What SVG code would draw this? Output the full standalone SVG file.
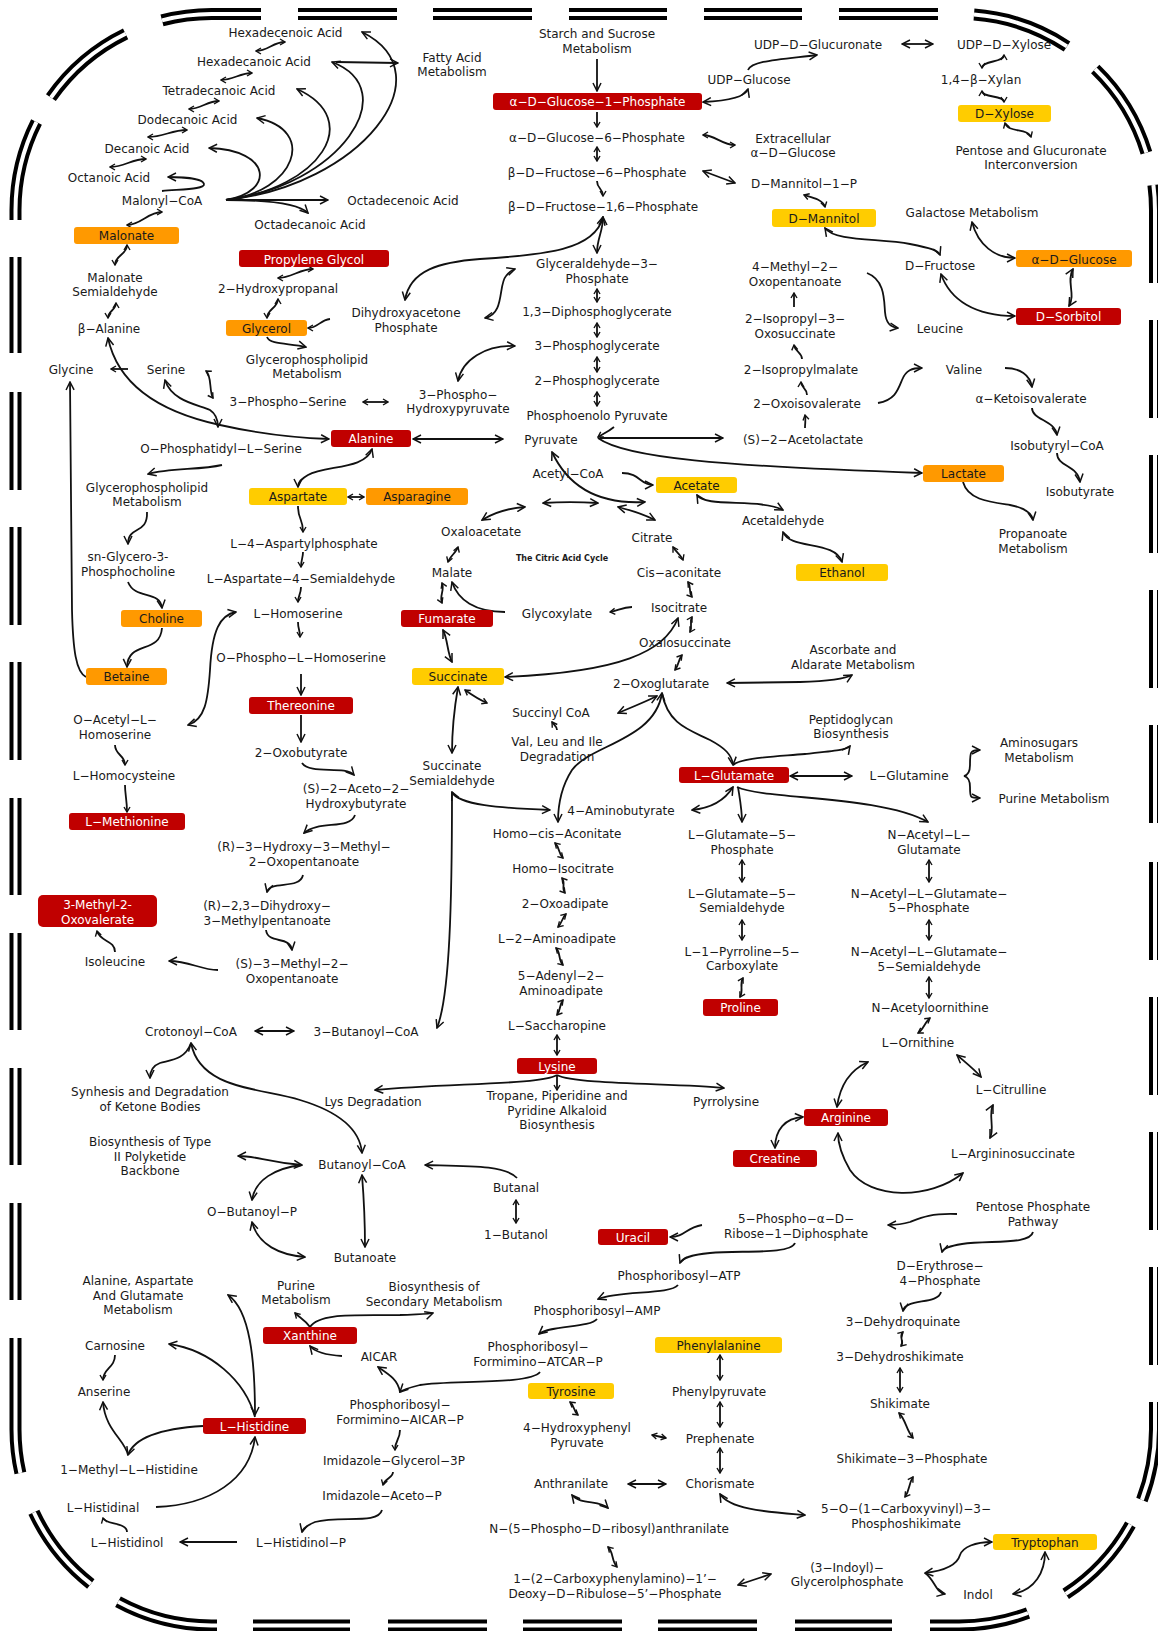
<svg xmlns="http://www.w3.org/2000/svg" width="1158" height="1631" viewBox="0 0 1158 1631">
<style>
text{font-family:"DejaVu Sans",Verdana,sans-serif;font-size:12px;fill:#1a1a1a;text-anchor:middle}
.w{fill:#fff}
.tca{font-weight:bold;font-size:8px}
.r{fill:#C00000}
.o{fill:#FF9900}
.y{fill:#FFCC00}
#connectors path{fill:none;stroke:#111;stroke-width:1.8}
#connectors .e{marker-end:url(#ah)}
#connectors .b{marker-start:url(#ah);marker-end:url(#ah)}
#connectors .es{marker-end:url(#as)}
#connectors .bs{marker-start:url(#as);marker-end:url(#as)}
</style>
<defs>
<marker id="ah" viewBox="-10 -5 11 10" refX="0" refY="0" markerWidth="11" markerHeight="10" markerUnits="userSpaceOnUse" orient="auto-start-reverse"><path d="M-8,-4 L0,0 L-8,4" fill="none" stroke="#111" stroke-width="1.5"/></marker>
<marker id="as" viewBox="-7 -4 8 8" refX="0" refY="0" markerWidth="8" markerHeight="8" markerUnits="userSpaceOnUse" orient="auto-start-reverse"><path d="M-5,-3 L0,0 L-5,3" fill="none" stroke="#111" stroke-width="1.4"/></marker>
<path id="mem" d="M298,14 H397 M433,14 H532 M569,14 H667 M704,14 H802 M839,14 H938 M261,14 L211.5,14 A196,196 0 0 0 162,20.4 M125.6,33.8 A196,196 0 0 0 50.9,97.6 M36.5,122 A196,196 0 0 0 15.5,210 L15.5,220 M15.5,257 V353 M15.5,392 V490 M15.5,527 V625 M15.5,662 V760 M15.5,798 V895 M15.5,933 V1030 M15.5,1068 V1165 M15.5,1203 V1300 M15.5,1338 L15.5,1429.5 A196,196 0 0 0 20.4,1473 M33.9,1512.3 A196,196 0 0 0 90.8,1583.9 M118,1601.8 A196,196 0 0 0 211.5,1625.5 L217,1625.5 M253,1625.5 H350 M388,1625.5 H487 M523,1625.5 H622 M658,1625.5 H757 M795,1625.5 H892 M930,1625.5 L959,1625.5 A196,196 0 0 0 1028,1613 M1065.7,1593.9 A196,196 0 0 0 1130.4,1524.5 M1141.9,1500 A196,196 0 0 0 1155,1429.5 L1155,1402 M1155,1365 V1267 M1155,1230 V1132 M1155,1095 V997 M1155,960 V862 M1155,823 V725 M1155,688 V590 M1155,553 V455 M1155,418 V320 M1155,283 L1155,210 A196,196 0 0 0 1153.4,185 M1146.4,152.7 A196,196 0 0 0 1095.2,69 M1067,46.4 A196,196 0 0 0 974,14.6"/>
</defs>
<rect width="1158" height="1631" fill="#fff"/>
<g id="membrane">
<use href="#mem" fill="none" stroke="#000" stroke-width="12"/>
<use href="#mem" fill="none" stroke="#fff" stroke-width="4"/>
</g>
<g id="connectors">
<path class="bs" d="M256,51 C268,51 273,42 285,42"/>
<path class="bs" d="M221,80 C233,80 240,73 252,73"/>
<path class="bs" d="M189,109 C201,109 207,101 219,101"/>
<path class="bs" d="M148,137 C164,137 171,130 187,130"/>
<path class="bs" d="M110,167 C125,167 131,159 146,159"/>
<path class="e" d="M162,191 C185,189 205,189 204,184 C203,179 185,177 168,177"/>
<path class="bs" d="M162,212 C148,212 141,225 127,225"/>
<path class="e" d="M226,200 L328,200"/>
<path class="e" d="M226,200 C262,200 298,203 308,213"/>
<path class="e" d="M226,200 C275,192 272,150 209,148"/>
<path class="e" d="M226,200 C295,192 318,130 257,118"/>
<path class="e" d="M226,200 C320,188 365,120 297,89"/>
<path class="e" d="M226,200 C340,186 405,90 332,62"/>
<path class="e" d="M226,200 C360,186 448,75 362,32"/>
<path class="e" d="M336,62 L398,63"/>
<path class="bs" d="M127,245 C127,255 115,255 115,265"/>
<path class="bs" d="M116,303 C116,310 108,311 108,318"/>
<path class="bs" d="M313,269 C300,269 291,278 278,278"/>
<path class="bs" d="M278,299 C278,308 267,309 267,318"/>
<path class="es" d="M330,319 C320,320 318,328 308,328"/>
<path class="e" d="M267,337 C270,345 290,343 306,347"/>
<path class="es" d="M128,369 L111,369"/>
<path class="bs" d="M206,371 C212,375 209,392 213,398"/>
<path class="bs" d="M363,402 L388,402"/>
<path class="b" d="M165,380 C172,402 200,405 210,410 C216,414 218,420 218,427"/>
<path class="b" d="M108,338 C118,385 160,412 220,425 C260,434 300,438 329,439"/>
<path class="e" d="M86,677 C76,672 73,650 72,610 L70,382"/>
<path class="e" d="M597,59 L597,91"/>
<path class="es" d="M597,112 L597,127"/>
<path class="bs" d="M597,147 L597,161"/>
<path class="es" d="M597,181 C597,189 603,188 603,196"/>
<path class="b" d="M603,217 C603,232 597,238 597,253"/>
<path class="b" d="M405,300 C410,270 440,262 480,259 C545,255 595,250 603,217"/>
<path class="b" d="M485,318 C505,314 498,285 506,276 C509,272 512,270 515,269"/>
<path class="bs" d="M597,289 L597,302"/>
<path class="bs" d="M597,323 L597,337"/>
<path class="bs" d="M597,357 L597,372"/>
<path class="bs" d="M597,392 L597,406"/>
<path class="b" d="M515,346 C485,345 462,360 458,381"/>
<path class="b" d="M703,102 C725,101 745,98 748,89"/>
<path class="e" d="M748,70 C752,61 775,60 817,55"/>
<path class="bs" d="M703,135 C715,135 722,145 735,145"/>
<path class="b" d="M703,171 L735,183"/>
<path class="b" d="M902,44 L933,44"/>
<path class="bs" d="M1004,55 C1004,63 982,60 982,68"/>
<path class="bs" d="M982,91 C982,98 1004,95 1004,102"/>
<path class="bs" d="M1005,123 C1008,133 1028,128 1031,137"/>
<path class="bs" d="M804,195 C810,197 823,199 825,207"/>
<path class="b" d="M825,228 C835,242 880,238 910,244 C930,248 938,250 940,255"/>
<path class="b" d="M972,222 C978,245 995,258 1015,258"/>
<path class="b" d="M1073,269 C1066,282 1076,294 1069,306"/>
<path class="b" d="M941,274 C950,300 975,316 1015,316"/>
<path class="e" d="M867,273 C885,280 884,300 885,312 C886,323 890,327 898,328"/>
<path class="es" d="M794,307 L794,293"/>
<path class="es" d="M802,359 C802,352 795,352 794,345"/>
<path class="es" d="M807,395 C807,388 801,388 801,382"/>
<path class="e" d="M878,403 C895,400 898,390 902,380 C906,370 912,368 922,368"/>
<path class="e" d="M1005,368 C1020,368 1030,375 1032,387"/>
<path class="es" d="M805,428 C805,422 806,420 805,415"/>
<path class="e" d="M1032,408 C1032,420 1055,420 1057,435"/>
<path class="e" d="M1057,453 C1057,467 1078,465 1080,482"/>
<path class="e" d="M598,438 C625,458 720,466 922,473"/>
<path class="e" d="M963,482 C968,500 990,502 1010,505 C1025,508 1032,513 1033,520"/>
<path class="b" d="M697,495 C705,508 760,498 783,510"/>
<path class="b" d="M783,532 C790,550 835,540 842,562"/>
<path class="b" d="M727,683 L800,682 C830,681 845,679 852,675"/>
<path class="e" d="M733,765 C740,758 770,757 805,754 C835,751 847,750 850,746"/>
<path class="b" d="M790,776 L852,776"/>
<path class="b" d="M980,750 C970,750 970,752 970,765 C970,772 968,775 964,776 C968,777 970,780 970,787 C970,798 970,798 980,798"/>
<path class="e" d="M737,787 C765,800 880,795 928,822"/>
<path class="b" d="M413,439 L503,439"/>
<path class="es" d="M614,427 C608,432 603,434 598,437"/>
<path class="e" d="M600,438 L723,438"/>
<path class="b" d="M552,452 C565,480 590,505 645,502"/>
<path class="b" d="M482,520 C495,512 510,508 525,507"/>
<path class="b" d="M543,503 C560,502 580,502 598,503"/>
<path class="b" d="M618,507 C630,510 645,515 655,520"/>
<path class="bs" d="M673,547 C676,552 681,555 683,560"/>
<path class="bs" d="M688,582 C692,588 688,592 692,597"/>
<path class="es" d="M632,607 C622,607 618,611 610,612"/>
<path class="e" d="M505,612 C475,612 458,600 452,582"/>
<path class="bs" d="M458,547 C456,553 450,556 448,562"/>
<path class="bs" d="M442,583 C445,590 439,596 442,603"/>
<path class="b" d="M443,630 C448,640 447,652 452,662"/>
<path class="b" d="M678,618 C665,652 620,672 505,677"/>
<path class="bs" d="M692,617 C689,622 693,627 690,632"/>
<path class="bs" d="M682,655 C678,660 679,665 675,670"/>
<path class="bs" d="M465,690 C472,695 480,700 487,703"/>
<path class="b" d="M657,696 C645,702 630,708 618,713"/>
<path class="es" d="M557,730 C557,726 554,725 552,722"/>
<path class="b" d="M458,687 C454,710 452,730 452,753"/>
<path class="b" d="M452,792 C458,805 500,808 550,810"/>
<path class="e" d="M452,792 C452,900 450,995 437,1028"/>
<path class="b" d="M662,693 C655,740 590,745 572,770 C561,787 558,805 558,822"/>
<path class="e" d="M662,693 C668,725 690,730 710,740 C725,748 732,755 733,765"/>
<path class="b" d="M733,787 C725,800 712,808 692,810"/>
<path class="e" d="M738,787 C740,800 742,810 742,822"/>
<path class="bs" d="M555,843 C560,848 558,853 563,858"/>
<path class="bs" d="M562,878 C566,883 561,888 565,893"/>
<path class="bs" d="M566,914 C562,918 562,923 558,927"/>
<path class="bs" d="M556,948 C561,953 558,960 563,965"/>
<path class="bs" d="M563,1000 C559,1005 561,1010 557,1015"/>
<path class="bs" d="M557,1035 L557,1055"/>
<path class="e" d="M557,1075 C540,1085 450,1083 375,1090"/>
<path class="es" d="M557,1075 L557,1090"/>
<path class="e" d="M557,1075 C575,1085 680,1083 724,1088"/>
<path class="bs" d="M742,860 L742,882"/>
<path class="bs" d="M742,920 L742,940"/>
<path class="bs" d="M743,978 C739,985 744,990 740,997"/>
<path class="bs" d="M929,860 L929,882"/>
<path class="bs" d="M929,920 L929,940"/>
<path class="bs" d="M929,977 L929,998"/>
<path class="bs" d="M930,1018 C925,1022 923,1030 918,1033"/>
<path class="b" d="M957,1055 C965,1062 975,1070 981,1077"/>
<path class="b" d="M993,1105 C988,1115 995,1128 990,1138"/>
<path class="b" d="M963,1173 C930,1200 870,1200 850,1170 C843,1158 838,1145 838,1133"/>
<path class="b" d="M837,1107 C840,1085 850,1070 868,1062"/>
<path class="b" d="M803,1117 C785,1118 775,1130 775,1148"/>
<path class="b" d="M372,449 C365,470 325,465 308,475 C301,479 298,482 298,487"/>
<path class="bs" d="M348,497 L364,497"/>
<path class="es" d="M298,506 C298,520 303,518 303,532"/>
<path class="es" d="M303,552 C303,558 301,560 301,567"/>
<path class="es" d="M301,587 C301,594 298,596 298,602"/>
<path class="es" d="M298,622 C298,629 300,630 300,637"/>
<path class="e" d="M301,674 L301,695"/>
<path class="e" d="M301,715 L301,742"/>
<path class="e" d="M302,763 C310,775 345,765 354,775"/>
<path class="e" d="M222,465 C200,470 170,468 148,474"/>
<path class="e" d="M147,512 C148,535 128,525 128,544"/>
<path class="e" d="M128,582 C135,600 160,590 162,608"/>
<path class="e" d="M162,628 C160,655 128,640 127,667"/>
<path class="b" d="M188,725 C205,720 208,700 210,670 C212,630 220,615 236,612"/>
<path class="es" d="M115,745 C115,755 125,755 125,765"/>
<path class="es" d="M125,785 C125,795 127,800 127,812"/>
<path class="e" d="M355,815 C350,830 318,820 304,833"/>
<path class="e" d="M303,875 C300,890 270,880 267,892"/>
<path class="e" d="M266,930 C268,945 290,935 292,950"/>
<path class="e" d="M218,970 C200,970 190,961 169,961"/>
<path class="es" d="M115,952 C115,940 100,942 97,931"/>
<path class="b" d="M255,1031 L294,1031"/>
<path class="e" d="M191,1043 C185,1060 170,1060 160,1063 C152,1066 150,1072 150,1078"/>
<path class="b" d="M191,1043 C200,1090 262,1088 300,1100 C340,1112 360,1130 362,1153"/>
<path class="b" d="M238,1156 C258,1156 265,1162 302,1165"/>
<path class="e" d="M302,1165 C275,1168 255,1180 252,1200"/>
<path class="b" d="M252,1222 C258,1245 280,1255 305,1257"/>
<path class="b" d="M362,1175 C364,1200 365,1220 365,1247"/>
<path class="e" d="M517,1178 C505,1165 470,1166 425,1165"/>
<path class="bs" d="M516,1200 L516,1223"/>
<path class="e" d="M957,1214 C930,1213 920,1218 910,1222 C900,1225 895,1225 888,1225"/>
<path class="e" d="M1033,1232 C1030,1245 990,1240 962,1244 C950,1246 943,1248 942,1252"/>
<path class="e" d="M702,1225 C685,1228 685,1237 670,1237"/>
<path class="e" d="M795,1243 C790,1255 740,1250 710,1253 C690,1255 682,1258 680,1263"/>
<path class="e" d="M678,1285 C670,1295 620,1290 598,1299"/>
<path class="e" d="M597,1319 C590,1328 550,1325 539,1334"/>
<path class="e" d="M540,1372 C530,1385 450,1380 420,1385 C408,1388 402,1390 400,1392"/>
<path class="e" d="M400,1392 C398,1380 390,1375 378,1367"/>
<path class="e" d="M342,1356 C325,1355 315,1352 310,1346"/>
<path class="es" d="M310,1327 C305,1320 300,1318 295,1313"/>
<path class="e" d="M310,1327 C320,1312 360,1316 400,1315 C420,1314 430,1314 433,1313"/>
<path class="es" d="M400,1430 C400,1440 395,1440 395,1450"/>
<path class="es" d="M393,1472 C393,1478 385,1478 383,1485"/>
<path class="e" d="M382,1510 C378,1525 340,1515 315,1522 C308,1525 303,1528 302,1532"/>
<path class="e" d="M237,1542 L180,1542"/>
<path class="es" d="M127,1532 C127,1522 105,1525 103,1518"/>
<path class="e" d="M156,1507 C210,1505 250,1480 255,1437"/>
<path class="e" d="M203,1426 C170,1428 135,1435 128,1455"/>
<path class="e" d="M128,1455 C125,1440 105,1430 103,1402"/>
<path class="es" d="M115,1355 C115,1368 103,1368 103,1380"/>
<path class="e" d="M255,1417 C245,1380 210,1350 169,1344"/>
<path class="b" d="M255,1415 C255,1360 250,1310 228,1295"/>
<path class="bs" d="M570,1402 C575,1406 573,1411 578,1415"/>
<path class="bs" d="M652,1435 C657,1436 661,1437 666,1438"/>
<path class="bs" d="M720,1355 L720,1380"/>
<path class="bs" d="M720,1402 L720,1427"/>
<path class="bs" d="M720,1448 L720,1473"/>
<path class="b" d="M628,1484 L666,1484"/>
<path class="b" d="M572,1495 C580,1505 600,1500 608,1508"/>
<path class="bs" d="M608,1547 C614,1553 611,1560 617,1567"/>
<path class="b" d="M738,1585 L771,1574"/>
<path class="b" d="M720,1494 C730,1510 770,1512 805,1515"/>
<path class="e" d="M941,1292 C938,1305 905,1298 903,1311"/>
<path class="bs" d="M903,1332 C898,1337 905,1342 901,1346"/>
<path class="bs" d="M900,1368 L900,1392"/>
<path class="bs" d="M899,1413 C906,1420 906,1430 913,1438"/>
<path class="bs" d="M913,1477 C908,1485 910,1490 905,1497"/>
<path class="b" d="M925,1573 C950,1570 958,1562 960,1555 C963,1547 975,1542 992,1542"/>
<path class="e" d="M925,1573 C935,1580 935,1592 945,1594"/>
<path class="b" d="M1013,1594 C1035,1590 1045,1572 1045,1552"/>
<path class="e" d="M622,473 C640,473 640,485 653,485"/>
</g>
<g id="hexadecenoic"><text x="285.5" y="37">Hexadecenoic Acid</text></g>
<g id="hexadecanoic"><text x="254" y="66">Hexadecanoic Acid</text></g>
<g id="tetradecanoic"><text x="219" y="95">Tetradecanoic Acid</text></g>
<g id="dodecanoic"><text x="187.5" y="124">Dodecanoic Acid</text></g>
<g id="decanoic"><text x="147" y="153">Decanoic Acid</text></g>
<g id="octanoic"><text x="109" y="182">Octanoic Acid</text></g>
<g id="malonylcoa"><text x="162" y="205">Malonyl−CoA</text></g>
<g id="octadecenoic"><text x="403" y="205">Octadecenoic Acid</text></g>
<g id="octadecanoic"><text x="310" y="229">Octadecanoic Acid</text></g>
<g id="fattyacid"><text x="452" y="62">Fatty Acid<tspan x="452" y="76">Metabolism</tspan></text></g>
<g id="starch"><text x="597" y="38">Starch and Sucrose<tspan x="597" y="53">Metabolism</tspan></text></g>
<g id="udpglucuronate"><text x="818" y="49">UDP−D−Glucuronate</text></g>
<g id="udpxylose"><text x="1004" y="49">UDP−D−Xylose</text></g>
<g id="udpglucose"><text x="749" y="84">UDP−Glucose</text></g>
<g id="xylan"><text x="981" y="84">1,4−β−Xylan</text></g>
<g id="g1p"><rect class="r" x="493" y="93" width="209" height="17" rx="3"/><text class="w" x="597.5" y="106">α−D−Glucose−1−Phosphate</text></g>
<g id="dxylose"><rect class="y" x="958" y="105" width="93" height="17" rx="3"/><text x="1004.5" y="118">D−Xylose</text></g>
<g id="g6p"><text x="597" y="141.5">α−D−Glucose−6−Phosphate</text></g>
<g id="extraglucose"><text x="793" y="143">Extracellular<tspan x="793" y="157">α−D−Glucose</tspan></text></g>
<g id="pentoseglucuronate"><text x="1031" y="154.5">Pentose and Glucuronate<tspan x="1031" y="169">Interconversion</tspan></text></g>
<g id="f6p"><text x="597" y="176.5">β−D−Fructose−6−Phosphate</text></g>
<g id="mannitol1p"><text x="804" y="188">D−Mannitol−1−P</text></g>
<g id="f16p"><text x="603" y="211">β−D−Fructose−1,6−Phosphate</text></g>
<g id="galactose"><text x="972" y="217">Galactose Metabolism</text></g>
<g id="mannitol"><rect class="y" x="772" y="209" width="104" height="18" rx="3"/><text x="824" y="222.5">D−Mannitol</text></g>
<g id="malonate"><rect class="o" x="74" y="227" width="105" height="17" rx="3"/><text x="126.5" y="240">Malonate</text></g>
<g id="propyleneglycol"><rect class="r" x="239" y="250" width="150" height="17" rx="3"/><text class="w" x="314" y="263.5">Propylene Glycol</text></g>
<g id="aglucose"><rect class="o" x="1016" y="250" width="116" height="17" rx="3"/><text x="1074" y="263.5">α−D−Glucose</text></g>
<g id="malonatesemi"><text x="115" y="282">Malonate<tspan x="115" y="296">Semialdehyde</tspan></text></g>
<g id="hydroxypropanal"><text x="278" y="293">2−Hydroxypropanal</text></g>
<g id="gap"><text x="597" y="268">Glyceraldehyde−3−<tspan x="597" y="283">Phosphate</tspan></text></g>
<g id="methyloxopentanoate"><text x="795" y="271">4−Methyl−2−<tspan x="795" y="286">Oxopentanoate</tspan></text></g>
<g id="dfructose"><text x="940" y="270">D−Fructose</text></g>
<g id="dpg"><text x="597" y="316">1,3−Diphosphoglycerate</text></g>
<g id="dhap"><text x="406" y="317">Dihydroxyacetone<tspan x="406" y="332">Phosphate</tspan></text></g>
<g id="isopropyloxosuccinate"><text x="795" y="323">2−Isopropyl−3−<tspan x="795" y="338">Oxosuccinate</tspan></text></g>
<g id="sorbitol"><rect class="r" x="1016" y="308" width="105" height="17" rx="3"/><text class="w" x="1068.5" y="321">D−Sorbitol</text></g>
<g id="glycerol"><rect class="o" x="226" y="320" width="81" height="16" rx="3"/><text x="266.5" y="332.5">Glycerol</text></g>
<g id="balanine"><text x="109" y="333">β−Alanine</text></g>
<g id="leucine"><text x="940" y="333">Leucine</text></g>
<g id="pg3"><text x="597" y="350">3−Phosphoglycerate</text></g>
<g id="gplmet1"><text x="307" y="364">Glycerophospholipid<tspan x="307" y="378">Metabolism</tspan></text></g>
<g id="glycine"><text x="71" y="374">Glycine</text></g>
<g id="serine"><text x="166" y="374">Serine</text></g>
<g id="isopropylmalate"><text x="801" y="374">2−Isopropylmalate</text></g>
<g id="valine"><text x="964" y="374">Valine</text></g>
<g id="pg2"><text x="597" y="385">2−Phosphoglycerate</text></g>
<g id="phosphoserine"><text x="288" y="406">3−Phospho−Serine</text></g>
<g id="phosphohydroxypyruvate"><text x="458" y="398.5">3−Phospho−<tspan x="458" y="413">Hydroxypyruvate</tspan></text></g>
<g id="oxoisovalerate"><text x="807" y="408">2−Oxoisovalerate</text></g>
<g id="ketoisovalerate"><text x="1031" y="403">α−Ketoisovalerate</text></g>
<g id="pep"><text x="597" y="420">Phosphoenolo Pyruvate</text></g>
<g id="alanine"><rect class="r" x="331" y="430" width="80" height="17" rx="3"/><text class="w" x="371" y="443">Alanine</text></g>
<g id="pyruvate"><text x="551" y="444">Pyruvate</text></g>
<g id="acetolactate"><text x="803" y="444">(S)−2−Acetolactate</text></g>
<g id="isobutyrylcoa"><text x="1057" y="450">Isobutyryl−CoA</text></g>
<g id="phosphatidylserine"><text x="221" y="453">O−Phosphatidyl−L−Serine</text></g>
<g id="lactate"><rect class="o" x="923" y="465" width="81" height="17" rx="3"/><text x="963.5" y="478">Lactate</text></g>
<g id="acetylcoa"><text x="568" y="478">Acetyl−CoA</text></g>
<g id="acetate"><rect class="y" x="656" y="477" width="81" height="16" rx="3"/><text x="696.5" y="489.5">Acetate</text></g>
<g id="aspartate"><rect class="y" x="249" y="488" width="98" height="17" rx="3"/><text x="298" y="501">Aspartate</text></g>
<g id="asparagine"><rect class="o" x="366" y="488" width="102" height="17" rx="3"/><text x="417" y="501">Asparagine</text></g>
<g id="gplmet2"><text x="147" y="492">Glycerophospholipid<tspan x="147" y="506">Metabolism</tspan></text></g>
<g id="isobutyrate"><text x="1080" y="496">Isobutyrate</text></g>
<g id="acetaldehyde"><text x="783" y="525">Acetaldehyde</text></g>
<g id="oxaloacetate"><text x="481" y="536">Oxaloacetate</text></g>
<g id="citrate"><text x="652" y="542">Citrate</text></g>
<g id="propanoate"><text x="1033" y="538">Propanoate<tspan x="1033" y="553">Metabolism</tspan></text></g>
<g id="aspartylphosphate"><text x="304" y="548">L−4−Aspartylphosphate</text></g>
<g id="tcalabel"><text class="tca" x="562" y="561">The Citric Acid Cycle</text></g>
<g id="glycerophosphocholine"><text x="128" y="561">sn-Glycero-3-<tspan x="128" y="576">Phosphocholine</tspan></text></g>
<g id="malate"><text x="452" y="577">Malate</text></g>
<g id="cisaconitate"><text x="679" y="577">Cis−aconitate</text></g>
<g id="ethanol"><rect class="y" x="796" y="564" width="92" height="17" rx="3"/><text x="842" y="577">Ethanol</text></g>
<g id="aspsemialdehyde"><text x="301" y="583">L−Aspartate−4−Semialdehyde</text></g>
<g id="isocitrate"><text x="679" y="612">Isocitrate</text></g>
<g id="homoserine"><text x="298" y="618">L−Homoserine</text></g>
<g id="glycoxylate"><text x="557" y="618">Glycoxylate</text></g>
<g id="choline"><rect class="o" x="121" y="610" width="81" height="17" rx="3"/><text x="161.5" y="623">Choline</text></g>
<g id="fumarate"><rect class="r" x="401" y="610" width="92" height="17" rx="3"/><text class="w" x="447" y="623">Fumarate</text></g>
<g id="oxalosuccinate"><text x="685" y="647">Oxalosuccinate</text></g>
<g id="ascorbate"><text x="853" y="654">Ascorbate and<tspan x="853" y="669">Aldarate Metabolism</tspan></text></g>
<g id="phosphohomoserine"><text x="301" y="662">O−Phospho−L−Homoserine</text></g>
<g id="betaine"><rect class="o" x="86" y="668" width="81" height="17" rx="3"/><text x="126.5" y="681">Betaine</text></g>
<g id="succinate"><rect class="y" x="412" y="668" width="92" height="17" rx="3"/><text x="458" y="681">Succinate</text></g>
<g id="oxoglutarate"><text x="661" y="688">2−Oxoglutarate</text></g>
<g id="threonine"><rect class="r" x="249" y="697" width="104" height="17" rx="3"/><text class="w" x="301" y="710">Thereonine</text></g>
<g id="succinylcoa"><text x="551" y="717">Succinyl CoA</text></g>
<g id="peptidoglycan"><text x="851" y="724">Peptidoglycan<tspan x="851" y="738">Biosynthesis</tspan></text></g>
<g id="acetylhomoserine"><text x="115" y="724">O−Acetyl−L−<tspan x="115" y="739">Homoserine</tspan></text></g>
<g id="valleuile"><text x="557" y="746">Val, Leu and Ile<tspan x="557" y="761">Degradation</tspan></text></g>
<g id="aminosugars"><text x="1039" y="747">Aminosugars<tspan x="1039" y="762">Metabolism</tspan></text></g>
<g id="oxobutyrate"><text x="301" y="757">2−Oxobutyrate</text></g>
<g id="succsemialdehyde"><text x="452" y="770">Succinate<tspan x="452" y="785">Semialdehyde</tspan></text></g>
<g id="glutamate"><rect class="r" x="679" y="767" width="110" height="16" rx="3"/><text class="w" x="734" y="779.5">L−Glutamate</text></g>
<g id="homocysteine"><text x="124" y="780">L−Homocysteine</text></g>
<g id="glutamine"><text x="909" y="780">L−Glutamine</text></g>
<g id="acetohydroxybutyrate"><text x="356" y="793">(S)−2−Aceto−2−<tspan x="356" y="808">Hydroxybutyrate</tspan></text></g>
<g id="purinemet2"><text x="1054" y="803">Purine Metabolism</text></g>
<g id="aminobutyrate"><text x="621" y="815">4−Aminobutyrate</text></g>
<g id="methionine"><rect class="r" x="69" y="813" width="116" height="17" rx="3"/><text class="w" x="127" y="826">L−Methionine</text></g>
<g id="homocisaconitate"><text x="557" y="838">Homo−cis−Aconitate</text></g>
<g id="glu5p"><text x="742" y="839">L−Glutamate−5−<tspan x="742" y="854">Phosphate</tspan></text></g>
<g id="acetylglutamate"><text x="929" y="839">N−Acetyl−L−<tspan x="929" y="854">Glutamate</tspan></text></g>
<g id="hydroxymethyloxo"><text x="304" y="851">(R)−3−Hydroxy−3−Methyl−<tspan x="304" y="866">2−Oxopentanoate</tspan></text></g>
<g id="homoisocitrate"><text x="563" y="873">Homo−Isocitrate</text></g>
<g id="glu5sa"><text x="742" y="898">L−Glutamate−5−<tspan x="742" y="912">Semialdehyde</tspan></text></g>
<g id="acglu5p"><text x="929" y="898">N−Acetyl−L−Glutamate−<tspan x="929" y="912">5−Phosphate</tspan></text></g>
<g id="oxoadipate"><text x="565" y="908">2−Oxoadipate</text></g>
<g id="dihydroxymethyl"><text x="267" y="910">(R)−2,3−Dihydroxy−<tspan x="267" y="925">3−Methylpentanoate</tspan></text></g>
<g id="methyloxovalerate"><rect class="r" x="38" y="895" width="119" height="32" rx="5"/><text class="w" x="97.5" y="909">3-Methyl-2-<tspan x="97.5" y="924">Oxovalerate</tspan></text></g>
<g id="aminoadipate"><text x="557" y="943">L−2−Aminoadipate</text></g>
<g id="pyrroline"><text x="742" y="956">L−1−Pyrroline−5−<tspan x="742" y="970">Carboxylate</tspan></text></g>
<g id="acglu5sa"><text x="929" y="956">N−Acetyl−L−Glutamate−<tspan x="929" y="971">5−Semialdehyde</tspan></text></g>
<g id="isoleucine"><text x="115" y="966">Isoleucine</text></g>
<g id="methyloxopent3"><text x="292" y="968">(S)−3−Methyl−2−<tspan x="292" y="983">Oxopentanoate</tspan></text></g>
<g id="adenylaminoadipate"><text x="561" y="980">5−Adenyl−2−<tspan x="561" y="995">Aminoadipate</tspan></text></g>
<g id="proline"><rect class="r" x="703" y="999" width="75" height="17" rx="3"/><text class="w" x="740.5" y="1012">Proline</text></g>
<g id="acetylornithine"><text x="930" y="1012">N−Acetyloornithine</text></g>
<g id="saccharopine"><text x="557" y="1030">L−Saccharopine</text></g>
<g id="crotonoylcoa"><text x="191" y="1036">Crotonoyl−CoA</text></g>
<g id="butanoylcoa3"><text x="366" y="1036">3−Butanoyl−CoA</text></g>
<g id="ornithine"><text x="918" y="1047">L−Ornithine</text></g>
<g id="lysine"><rect class="r" x="517" y="1058" width="80" height="16" rx="3"/><text class="w" x="557" y="1070.5">Lysine</text></g>
<g id="citrulline"><text x="1011" y="1094">L−Citrulline</text></g>
<g id="ketonebodies"><text x="150" y="1096">Synhesis and Degradation<tspan x="150" y="1111">of Ketone Bodies</tspan></text></g>
<g id="tropane"><text x="557" y="1100">Tropane, Piperidine and<tspan x="557" y="1115">Pyridine Alkaloid</tspan><tspan x="557" y="1129">Biosynthesis</tspan></text></g>
<g id="lysdeg"><text x="373" y="1106">Lys Degradation</text></g>
<g id="pyrrolysine"><text x="726" y="1106">Pyrrolysine</text></g>
<g id="arginine"><rect class="r" x="804" y="1109" width="84" height="17" rx="3"/><text class="w" x="846" y="1122">Arginine</text></g>
<g id="polyketide"><text x="150" y="1146">Biosynthesis of Type<tspan x="150" y="1161">II Polyketide</tspan><tspan x="150" y="1175">Backbone</tspan></text></g>
<g id="creatine"><rect class="r" x="733" y="1150" width="84" height="17" rx="3"/><text class="w" x="775" y="1163">Creatine</text></g>
<g id="argininosuccinate"><text x="1013" y="1158">L−Argininosuccinate</text></g>
<g id="butanoylcoa"><text x="362" y="1169">Butanoyl−CoA</text></g>
<g id="butanal"><text x="516" y="1192">Butanal</text></g>
<g id="ppp"><text x="1033" y="1211">Pentose Phosphate<tspan x="1033" y="1226">Pathway</tspan></text></g>
<g id="butanoylp"><text x="252" y="1216">O−Butanoyl−P</text></g>
<g id="prpp"><text x="796" y="1223">5−Phospho−α−D−<tspan x="796" y="1238">Ribose−1−Diphosphate</tspan></text></g>
<g id="butanol"><text x="516" y="1239">1−Butanol</text></g>
<g id="uracil"><rect class="r" x="598" y="1229" width="70" height="16" rx="3"/><text class="w" x="633" y="1241.5">Uracil</text></g>
<g id="butanoate"><text x="365" y="1262">Butanoate</text></g>
<g id="erythrose"><text x="940" y="1270">D−Erythrose−<tspan x="940" y="1285">4−Phosphate</tspan></text></g>
<g id="prATP"><text x="679" y="1280">Phosphoribosyl−ATP</text></g>
<g id="alaaspglu"><text x="138" y="1285">Alanine, Aspartate<tspan x="138" y="1300">And Glutamate</tspan><tspan x="138" y="1314">Metabolism</tspan></text></g>
<g id="purinemet1"><text x="296" y="1290">Purine<tspan x="296" y="1304">Metabolism</tspan></text></g>
<g id="secondarymet"><text x="434" y="1291">Biosynthesis of<tspan x="434" y="1306">Secondary Metabolism</tspan></text></g>
<g id="prAMP"><text x="597" y="1315">Phosphoribosyl−AMP</text></g>
<g id="dehydroquinate"><text x="903" y="1326">3−Dehydroquinate</text></g>
<g id="xanthine"><rect class="r" x="263" y="1327" width="94" height="17" rx="3"/><text class="w" x="310" y="1340">Xanthine</text></g>
<g id="phenylalanine"><rect class="y" x="655" y="1337" width="127" height="16" rx="3"/><text x="718.5" y="1349.5">Phenylalanine</text></g>
<g id="carnosine"><text x="115" y="1350">Carnosine</text></g>
<g id="atcarp"><text x="538" y="1351">Phosphoribosyl−<tspan x="538" y="1366">Formimino−ATCAR−P</tspan></text></g>
<g id="aicar"><text x="379" y="1361">AICAR</text></g>
<g id="dehydroshikimate"><text x="900" y="1361">3−Dehydroshikimate</text></g>
<g id="tyrosine"><rect class="y" x="528" y="1383" width="86" height="16" rx="3"/><text x="571" y="1395.5">Tyrosine</text></g>
<g id="anserine"><text x="104" y="1396">Anserine</text></g>
<g id="phenylpyruvate"><text x="719" y="1396">Phenylpyruvate</text></g>
<g id="shikimate"><text x="900" y="1408">Shikimate</text></g>
<g id="aicarp"><text x="400" y="1409">Phosphoribosyl−<tspan x="400" y="1424">Formimino−AICAR−P</tspan></text></g>
<g id="histidine"><rect class="r" x="203" y="1418" width="103" height="16" rx="3"/><text class="w" x="254.5" y="1430.5">L−Histidine</text></g>
<g id="hydroxyphenylpyruvate"><text x="577" y="1432">4−Hydroxyphenyl<tspan x="577" y="1447">Pyruvate</tspan></text></g>
<g id="prephenate"><text x="720" y="1443">Prephenate</text></g>
<g id="shikimate3p"><text x="912" y="1463">Shikimate−3−Phosphate</text></g>
<g id="imidazoleglycerol"><text x="394" y="1465">Imidazole−Glycerol−3P</text></g>
<g id="methylhistidine"><text x="129" y="1474">1−Methyl−L−Histidine</text></g>
<g id="anthranilate"><text x="571" y="1488">Anthranilate</text></g>
<g id="chorismate"><text x="720" y="1488">Chorismate</text></g>
<g id="imidazoleaceto"><text x="382" y="1500">Imidazole−Aceto−P</text></g>
<g id="histidinal"><text x="103" y="1512">L−Histidinal</text></g>
<g id="carboxyvinyl"><text x="906" y="1513">5−O−(1−Carboxyvinyl)−3−<tspan x="906" y="1528">Phosphoshikimate</tspan></text></g>
<g id="pranthranilate"><text x="609" y="1533">N−(5−Phospho−D−ribosyl)anthranilate</text></g>
<g id="tryptophan"><rect class="y" x="993" y="1534" width="104" height="16" rx="3"/><text x="1045" y="1546.5">Tryptophan</text></g>
<g id="histidinol"><text x="127" y="1547">L−Histidinol</text></g>
<g id="histidinolp"><text x="301" y="1547">L−Histidinol−P</text></g>
<g id="indoylglycerol"><text x="847" y="1572">(3−Indoyl)−<tspan x="847" y="1586">Glycerolphosphate</tspan></text></g>
<g id="cdrp"><text x="615" y="1583">1−(2−Carboxyphenylamino)−1’−<tspan x="615" y="1598">Deoxy−D−Ribulose−5’−Phosphate</tspan></text></g>
<g id="indol"><text x="978" y="1599">Indol</text></g>
</svg>
